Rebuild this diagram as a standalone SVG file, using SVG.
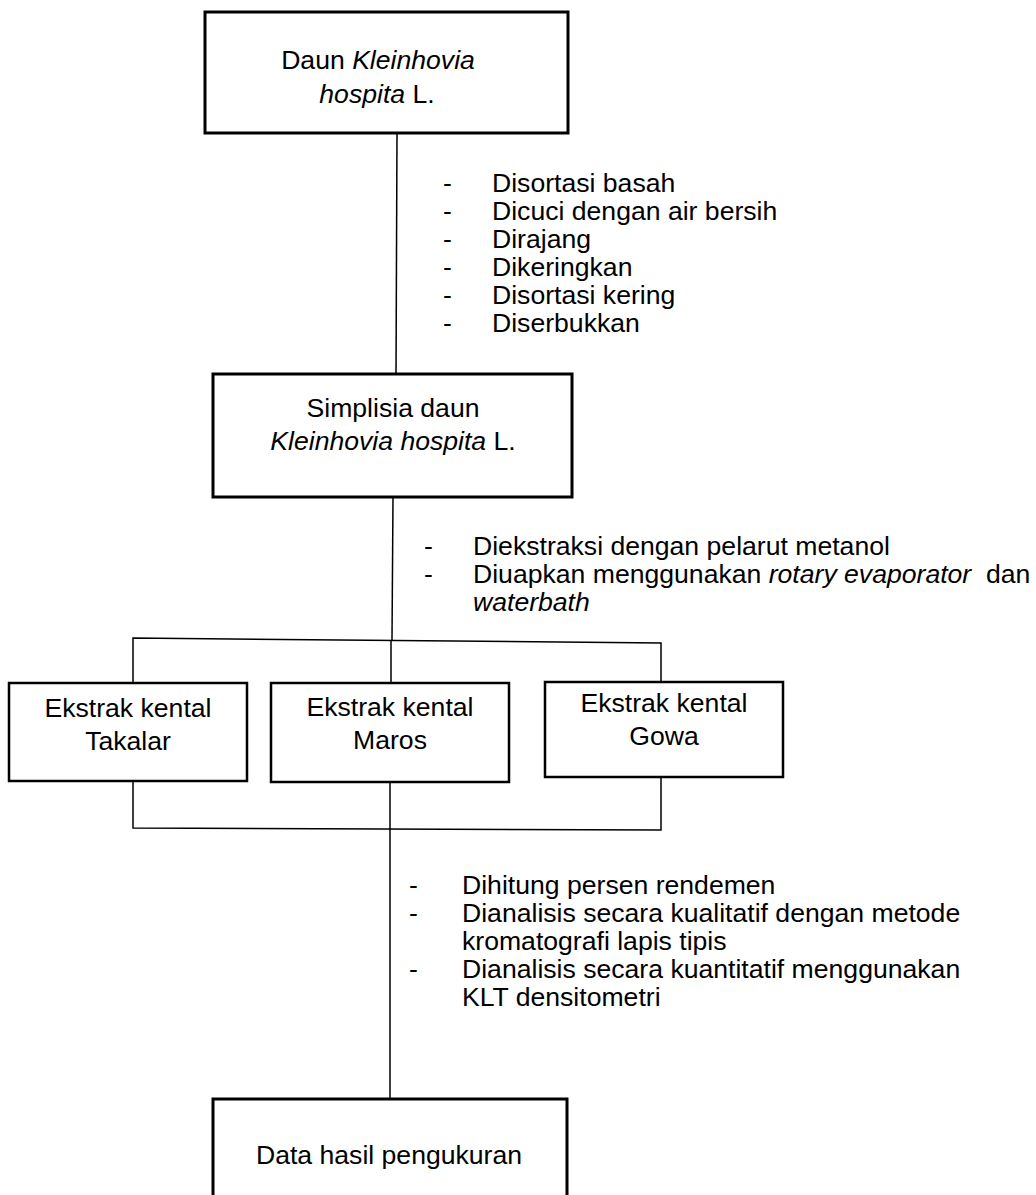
<svg xmlns="http://www.w3.org/2000/svg" width="1036" height="1195" viewBox="0 0 1036 1195">
<style>
  text { font-family: "Liberation Sans", Arial, sans-serif; font-size: 26.6px; fill: #000; }
  .box { fill: #fff; stroke: #000; stroke-width: 3; }
  .sbox { fill: #fff; stroke: #000; stroke-width: 2.5; }
  .c { text-anchor: middle; }
  .i { font-style: italic; }
  .conn { fill: none; stroke: #000; stroke-width: 1.5; }
</style>
<rect width="1036" height="1195" fill="#fff"/>
<g id="connectors">
  <line class="conn" x1="397" y1="133" x2="396" y2="375"/>
  <line class="conn" x1="393" y1="497" x2="392" y2="640"/>
  <polyline class="conn" points="133,683 133,638 661,643 661,682"/>
  <line class="conn" x1="391" y1="640" x2="391" y2="683"/>
  <polyline class="conn" points="133,781 133,828 661,830 661,777"/>
  <line class="conn" x1="390" y1="782" x2="390" y2="1100"/>
</g>
<g id="labels">
  <text x="443" y="192">-</text><text x="492" y="192">Disortasi basah</text>
  <text x="443" y="220">-</text><text x="492" y="220">Dicuci dengan air bersih</text>
  <text x="443" y="248">-</text><text x="492" y="248">Dirajang</text>
  <text x="443" y="276">-</text><text x="492" y="276">Dikeringkan</text>
  <text x="443" y="304">-</text><text x="492" y="304">Disortasi kering</text>
  <text x="443" y="332">-</text><text x="492" y="332">Diserbukkan</text>

  <text x="424" y="555">-</text><text x="473" y="555">Diekstraksi dengan pelarut metanol</text>
  <text x="424" y="583">-</text><text x="473" y="583" xml:space="preserve">Diuapkan menggunakan <tspan class="i">rotary evaporator</tspan>  dan</text>
  <text x="473" y="611" class="i">waterbath</text>

  <text x="409" y="894">-</text><text x="462" y="894">Dihitung persen rendemen</text>
  <text x="409" y="922">-</text><text x="462" y="922">Dianalisis secara kualitatif dengan metode</text>
  <text x="462" y="950">kromatografi lapis tipis</text>
  <text x="409" y="978">-</text><text x="462" y="978">Dianalisis secara kuantitatif menggunakan</text>
  <text x="462" y="1006">KLT densitometri</text>
</g>
<g id="node-daun">
  <rect class="box" x="205" y="12" width="363" height="121"/>
  <text class="c" x="378" y="69">Daun <tspan class="i">Kleinhovia</tspan></text>
  <text class="c" x="377" y="103"><tspan class="i">hospita</tspan> L.</text>
</g>
<g id="node-simplisia">
  <rect class="box" x="213" y="374" width="359" height="123"/>
  <text class="c" x="393" y="417">Simplisia daun</text>
  <text class="c" x="393" y="450"><tspan class="i">Kleinhovia hospita</tspan> L.</text>
</g>
<g id="node-takalar">
  <rect class="sbox" x="9" y="683" width="238" height="98"/>
  <text class="c" x="128" y="717">Ekstrak kental</text>
  <text class="c" x="128" y="750">Takalar</text>
</g>
<g id="node-maros">
  <rect class="sbox" x="271" y="683" width="238" height="99"/>
  <text class="c" x="390" y="716">Ekstrak kental</text>
  <text class="c" x="390" y="749">Maros</text>
</g>
<g id="node-gowa">
  <rect class="sbox" x="545" y="682" width="238" height="95"/>
  <text class="c" x="664" y="712">Ekstrak kental</text>
  <text class="c" x="664" y="745">Gowa</text>
</g>
<g id="node-data">
  <rect class="box" x="213" y="1099" width="354" height="110"/>
  <text class="c" x="389" y="1164">Data hasil pengukuran</text>
</g>
</svg>
